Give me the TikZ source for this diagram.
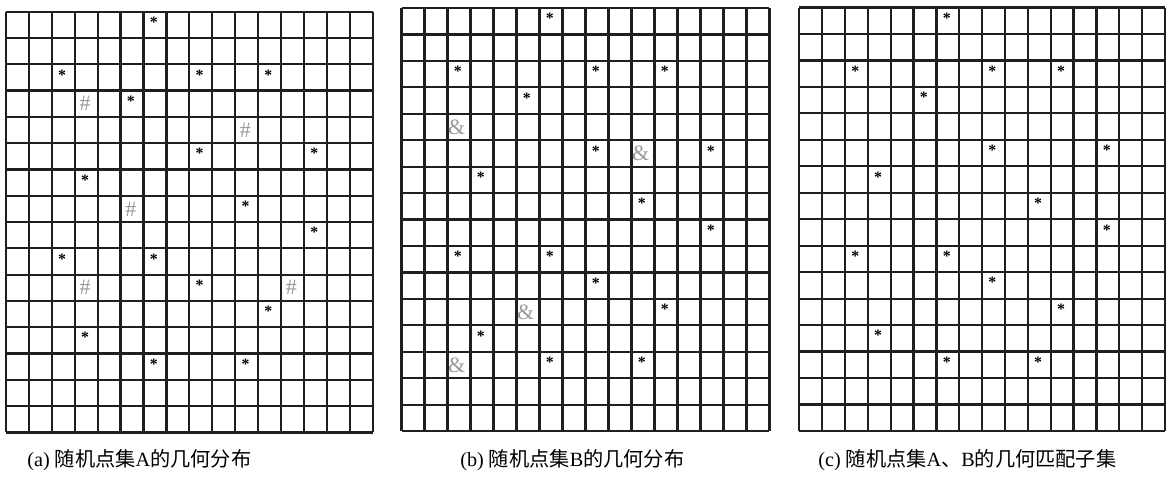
\documentclass[tikz,border=0pt]{standalone}
\usepackage{fontspec}
\setmainfont{Liberation Serif}
\newfontfamily\cjk{Noto Sans CJK SC}
\definecolor{GridClr}{rgb}{0.12,0.12,0.12}
\definecolor{TagClr}{rgb}{0.6,0.6,0.6}
\tikzset{
  gridline/.style={line width=1.25pt,color=GridClr},
  starmark/.style={inner sep=0pt,font=\bfseries\fontsize{9}{9}\selectfont},
  tagmark/.style={inner sep=0pt,color=TagClr,font=\fontsize{12.5}{12.5}\selectfont},
  caption/.style={anchor=west,inner sep=0pt,font=\fontsize{11.5}{13}\selectfont}
}
\newcommand\StarCells{6/0,2/2,8/2,11/2,5/3,8/5,13/5,3/6,10/7,13/8,2/9,6/9,8/10,11/11,3/12,6/13,10/13}
\newcommand\CellGrid{\foreach \i in {0,...,16} {
  \draw[gridline] (\i,0) -- (\i,16);
  \draw[gridline] (0,\i) -- (16,\i);}}

\begin{document}
\begin{tikzpicture}[x=0.02cm,y=-0.02cm]
\useasboundingbox (0,0) rectangle (1167,480);

\begin{scope}[shift={(6,11.7)},x=0.4584cm,y=-0.526cm]
\CellGrid
\foreach \c/\r in \StarCells
  \node[starmark] (a-\c-\r) at (\c+0.45,\r+0.4) {*};
\foreach \c/\r in {3/3,10/4,5/7,3/10,12/10}
  \node[tagmark] (ah-\c-\r) at (\c+0.45,\r+0.5) {\#};
\end{scope}

\begin{scope}[shift={(401.5,8)},x=0.46cm,y=-0.529cm]
\CellGrid
\foreach \c/\r in \StarCells
  \node[starmark] (b-\c-\r) at (\c+0.45,\r+0.4) {*};
\foreach \c/\r in {2/4,10/5,5/11,2/13}
  \node[tagmark] (ba-\c-\r) at (\c+0.4,\r+0.5) {\&};
\end{scope}

\begin{scope}[shift={(799.3,7.5)},x=0.4572cm,y=-0.5294cm]
\CellGrid
\foreach \c/\r in \StarCells
  \node[starmark] (c-\c-\r) at (\c+0.45,\r+0.4) {*};
\end{scope}

\node[caption] (capA) at (27,460) {(a) {\cjk 随机点集}A{\cjk 的几何分布}};
\node[caption] (capB) at (460,460) {(b) {\cjk 随机点集}B{\cjk 的几何分布}};
\node[caption] (capC) at (818,460) {(c) {\cjk 随机点集}A{\cjk 、}B{\cjk 的几何匹配子集}};

\end{tikzpicture}
\end{document}
